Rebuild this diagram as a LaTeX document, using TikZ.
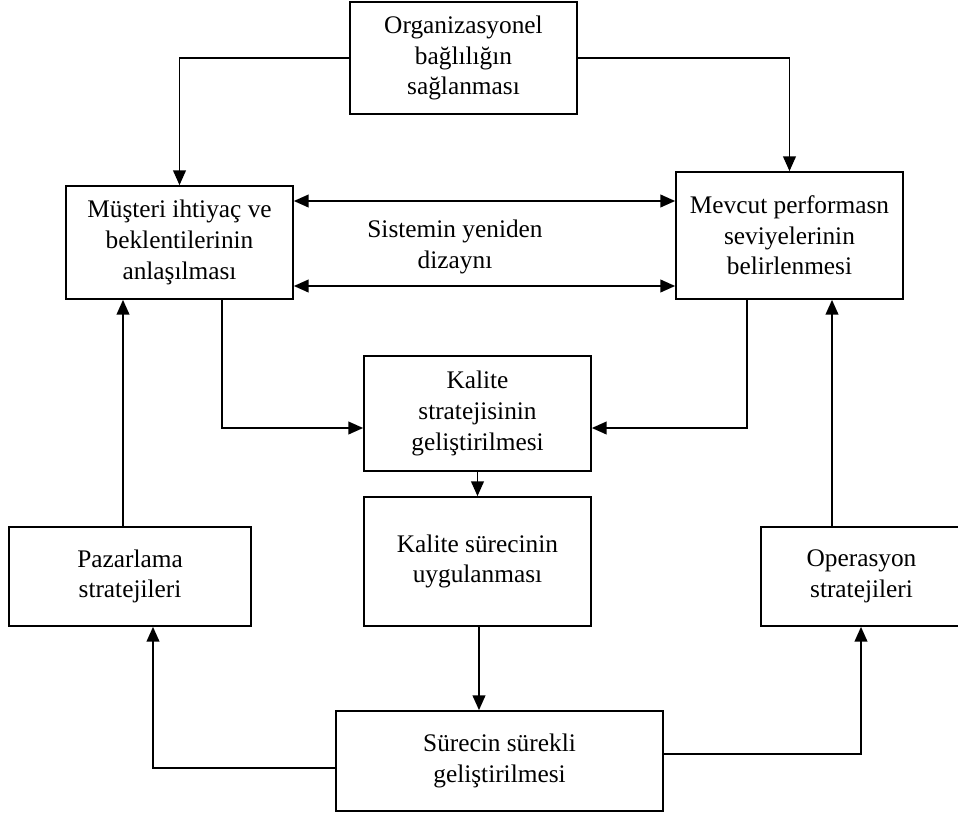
\documentclass[tikz,border=0pt]{standalone}
\usepackage{fontspec}
\setmainfont{Liberation Serif}
\usetikzlibrary{arrows.meta, positioning}

\begin{document}
\begin{tikzpicture}[
x=0.75pt, y=-0.75pt,
>={Triangle[length=11pt,width=9.5pt]},
line width=1.2pt,
every node/.style={font=\fontsize{19pt}{23pt}\selectfont, align=center},
box/.style={draw, line width=1.3pt, inner sep=0pt, minimum width=170.25pt},
]
\useasboundingbox (0,0) rectangle (958,814);
%% boxes
% top
\node[box, minimum height=84pt] (O) at (463.5,58) {Organizasyonel\\ bağlılığın\\ sağlanması};
% middle row
\node[box, minimum height=84.75pt] (M) at (179.5,242.5) {Müşteri ihtiyaç ve\\ beklentilerinin\\ anlaşılması};
\node[box, minimum height=95.25pt] (P) at (789.5,235.5) {Mevcut performasn\\ seviyelerinin\\ belirlenmesi};
\node (T) at (455,247) {Sistemin yeniden\\ dizaynı};
% centre column
\node[box, minimum height=86.25pt] (K) at (477.5,413.5) {Kalite\\ stratejisinin\\ geliştirilmesi};
\node[box, minimum height=96.75pt] (U) at (477.5,561.5) {Kalite sürecinin\\ uygulanması};
\node[box, minimum height=75pt, minimum width=245.25pt] (S) at (499.5,761) {Sürecin sürekli\\ geliştirilmesi};
% sides
\node[box, minimum height=74.25pt, minimum width=181.5pt] (Z) at (130,576.5) {Pazarlama\\ stratejileri};
\node[box, minimum height=74.25pt, minimum width=150.75pt] (R) at (861.5,576.5) {Operasyon\\ stratejileri};

%% arrows
% helper points
\coordinate (a1) at (0,201);
\coordinate (a2) at (0,286);
\coordinate (k1) at (222,428);
\coordinate (k2) at (747,428);
\coordinate (z1) at (123,0);
\coordinate (r1) at (832,0);
\coordinate (s1) at (153,768);
\coordinate (s2) at (861,754);
% top
\draw[->] (O.west) -| (M.north);
\draw[->] (O.east) -| (P.north);
% between middle boxes
\draw[<->] (M.east |- a1) -- (P.west |- a1);
\draw[<->] (M.east |- a2) -- (P.west |- a2);
% into quality strategy
\draw[->] (M.south -| k1) |- (K.west |- k1);
\draw[->] (P.south -| k2) |- (K.east |- k2);
% down the centre
\draw[->] (K.south -| U.north) -- (U.north);
\draw[->] (U.south -| 479,0) -- (S.north -| 479,0);
% up the sides
\draw[->] (Z.north -| z1) -- (M.south -| z1);
\draw[->] (R.north -| r1) -- (P.south -| r1);
% from continuous improvement
\draw[->] (S.west |- s1) -| (Z.south -| s1);
\draw[->] (S.east |- s2) -| (R.south -| s2);
\end{tikzpicture}
\end{document}
